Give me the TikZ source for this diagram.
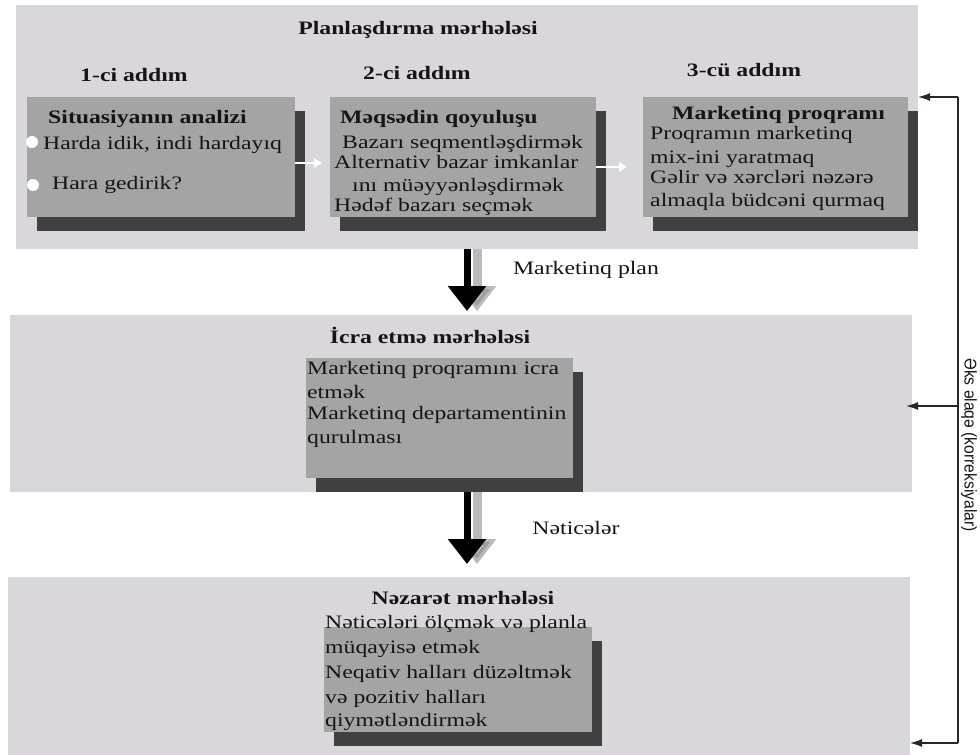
\documentclass[tikz,border=0pt]{standalone}
\usepackage{fontspec}
\setmainfont{Liberation Serif}[FakeStretch=1.25]
\newfontfamily\sidefont{Liberation Sans}[FakeStretch=0.92]
\usetikzlibrary{arrows.meta,shadows,calc}
\definecolor{bandgray}{HTML}{DAD7DC}
\definecolor{boxgray}{HTML}{A4A4A4}
\definecolor{inkc}{HTML}{151515}
\begin{document}
\begin{tikzpicture}[x=1pt,y=-1pt,
  band/.style={fill=bandgray, draw=none, inner sep=0pt, outer sep=0pt},
  stepbox/.style={fill=boxgray, draw=none, inner sep=0pt, outer sep=0pt,
    drop shadow={shadow xshift=10pt, shadow yshift=-14pt, fill=black!85, opacity=.85}},
  txt/.style={anchor=base west, inner sep=0pt, text=inkc, font=\fontsize{19}{22}\selectfont},
  btxt/.style={txt, font=\fontsize{19}{22}\selectfont\bfseries},
  ttl/.style={anchor=base, inner sep=0pt, text=inkc, font=\fontsize{19}{22}\selectfont\bfseries},
  lbl/.style={anchor=base, inner sep=0pt, text=inkc, font=\fontsize{19}{22}\selectfont},
  bullet/.style={circle, fill=white, draw=none, minimum size=12pt, inner sep=0pt},
  bigarrow/.style={draw=black, line width=7pt, -{Triangle[width=37pt,length=25pt]}},
  bigshadow/.style={draw=black!45, opacity=.6, line width=9pt, -{Triangle[width=37pt,length=25pt]}},
  wharrow/.style={draw=white, line width=2.5pt, -{Triangle[width=9pt,length=8pt]}},
  fb/.style={draw=black!85, line width=1.4pt},
  fbarrow/.style={fb, -{Latex[length=12pt,width=8pt]}},
  sidelabel/.style={inner sep=0pt, text=inkc, font=\sidefont\fontsize{17}{20}\selectfont}
]
\useasboundingbox (0,0) rectangle (980,755);
\fill[white] (0,0) rectangle (980,755);

% stage bands
\node[band, minimum width=902pt, minimum height=244pt] (band1) at (467,127) {};
\node[band, minimum width=902pt, minimum height=177pt] (band2) at (461,403.5) {};
\node[band, minimum width=902pt, minimum height=178pt] (band3) at (459,666) {};

% step boxes
\node[stepbox, minimum width=268pt, minimum height=120pt] (b1) at (161,157) {};
\node[stepbox, minimum width=266pt, minimum height=120pt] (b2) at (463,157) {};
\node[stepbox, minimum width=265pt, minimum height=120pt] (b3) at (775.5,157) {};
\node[stepbox, minimum width=267pt, minimum height=120pt] (mb) at (439.5,418) {};
\node[stepbox, minimum width=268pt, minimum height=105pt] (nb) at (458,679.5) {};

% arrows between steps
\draw[wharrow, shorten >=8pt] ([yshift=-6pt]b1.east) -- ([yshift=-6pt]b2.west);
\draw[wharrow, shorten >=16pt] ([yshift=-10pt]b2.east) -- ([yshift=-10pt]b3.west);

% titles
\node[ttl] (t0) at (418,34) {Planlaşdırma mərhələsi};
\node[ttl] (s1) at (134,81) {1-ci addım};
\node[ttl] (s2) at (417,79) {2-ci addım};
\node[ttl] (s3) at (744,76) {3-cü addım};

% box 1
\node[btxt] (b1t) at (48,123) {Situasiyanın analizi};
\node[bullet] (bu1) at (32,142) {};
\node[bullet] (bu2) at (33,185) {};
\node[txt] (b1a) at (43,149) {Harda idik, indi hardayıq};
\node[txt] (b1b) at (52,189) {Hara gedirik?};

% box 2
\node[btxt] (b2t) at (340,123) {Məqsədin qoyuluşu};
\node[txt] (b2a) at (342,148) {Bazarı seqmentləşdirmək};
\node[txt] (b2b) at (334,168) {Alternativ bazar imkanlar};
\node[txt] (b2c) at (352,191) {ını müəyyənləşdirmək};
\node[txt] (b2d) at (334,211) {Hədəf bazarı seçmək};

% box 3
\node[btxt] (b3t) at (672,119) {Marketinq proqramı};
\node[txt] (b3a) at (650,139) {Proqramın marketinq};
\node[txt] (b3b) at (650,163) {mix-ini yaratmaq};
\node[txt] (b3c) at (650,183) {Gəlir və xərcləri nəzərə};
\node[txt] (b3d) at (650,206) {almaqla büdcəni qurmaq};

% big arrows
\draw[bigshadow, shorten >=2pt] ($(band1.south)+(10,0)$) -- ($(band1.south |- band2.north)+(10,-2)$);
\draw[bigarrow, shorten >=4pt] (band1.south) -- (band1.south |- band2.north);
\node[lbl] (lp) at (586,274) {Marketinq plan};

\draw[bigshadow, shorten >=11pt] ($(band1.south |- band2.south)+(10,0)$) -- ($(band1.south |- band3.north)+(10,-2)$);
\draw[bigarrow, shorten >=13pt] (band1.south |- band2.south) -- (band1.south |- band3.north);
\node[lbl] (ln) at (576,534) {Nəticələr};

% middle stage
\node[ttl] (t2) at (430,343) {İcra etmə mərhələsi};
\node[txt] (m1) at (307,374) {Marketinq proqramını icra};
\node[txt] (m2) at (307,398) {etmək};
\node[txt] (m3) at (307,419) {Marketinq departamentinin};
\node[txt] (m4) at (307,443) {qurulması};

% bottom stage
\node[ttl] (t3) at (463,604) {Nəzarət mərhələsi};
\node[txt] (n1) at (325,628) {Nəticələri ölçmək və planla};
\node[txt] (n2) at (325,653) {müqayisə etmək};
\node[txt] (n3) at (325,678) {Neqativ halları düzəltmək};
\node[txt] (n4) at (325,703) {və pozitiv halları};
\node[txt] (n5) at (325,726) {qiymətləndirmək};

% feedback loop
\coordinate (fbt) at (958,97);
\coordinate (fbm) at (958,406);
\coordinate (fbb) at (958,743);
\draw[fb] (fbt) -- (fbb);
\draw[fbarrow] (fbt) -- (band1.east |- fbt);
\draw[fbarrow, shorten >=-6pt] (fbm) -- (band2.east |- fbm);
\draw[fbarrow] (fbb) -- (band3.east |- fbb);
\node[sidelabel, rotate=-90] (fbl) at (969,445) {Əks əlaqə (korreksiyalar)};
\end{tikzpicture}
\end{document}
